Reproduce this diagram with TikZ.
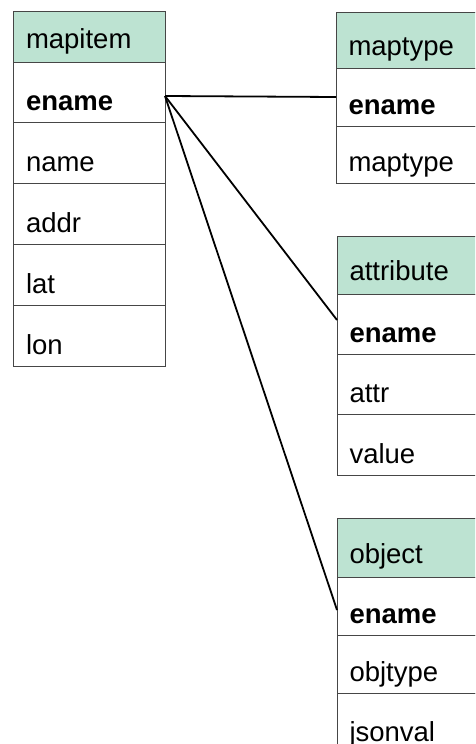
\documentclass[tikz,border=0pt]{standalone}
\usepackage{fontspec}
\setmainfont{Liberation Sans}
\definecolor{hdr}{RGB}{189,227,210}
\definecolor{edge}{RGB}{70,70,70}
\tikzset{
  cell/.style={draw=edge, line width=0.9pt, rectangle, inner sep=0pt, outer sep=0pt,
               anchor=north west, minimum width=152pt},
  head/.style={cell, fill=hdr},
  txt/.style={anchor=base west, inner sep=0pt, outer sep=0pt,
              font=\fontsize{27.5}{33}\selectfont},
  link/.style={draw=black, line width=1.8pt}
}
\begin{document}
\begin{tikzpicture}[x=1pt, y=-1pt]
\useasboundingbox (0,0) rectangle (475,744);
\clip (0,0) rectangle (475,744);

% mapitem table
\node[head, minimum height=51pt] (mi-h) at (13,11) {};
\node[cell, minimum height=60pt] (mi-ename) at (13,62) {};
\node[cell, minimum height=61pt] (mi-name) at (13,122) {};
\node[cell, minimum height=61pt] (mi-addr) at (13,183) {};
\node[cell, minimum height=61pt] (mi-lat) at (13,244) {};
\node[cell, minimum height=61pt] (mi-lon) at (13,305) {};
\node[txt] (mi-h-t) at ([shift={(13pt,14pt)}]mi-h.south west) {mapitem};
\node[txt] (mi-ename-t) at ([shift={(13pt,12pt)}]mi-ename.south west) {\bfseries ename};
\node[txt] (mi-name-t) at ([shift={(13pt,12pt)}]mi-name.south west) {name};
\node[txt] (mi-addr-t) at ([shift={(13pt,12pt)}]mi-addr.south west) {addr};
\node[txt] (mi-lat-t) at ([shift={(13pt,12pt)}]mi-lat.south west) {lat};
\node[txt] (mi-lon-t) at ([shift={(13pt,12pt)}]mi-lon.south west) {lon};

% maptype table
\node[head, minimum height=56pt] (mt-h) at (336,12) {};
\node[cell, minimum height=58pt] (mt-ename) at (336,68) {};
\node[cell, minimum height=57pt] (mt-maptype) at (336,126) {};
\node[txt] (mt-h-t) at ([shift={(12.5pt,13pt)}]mt-h.south west) {maptype};
\node[txt] (mt-ename-t) at ([shift={(12.5pt,12pt)}]mt-ename.south west) {\bfseries ename};
\node[txt] (mt-maptype-t) at ([shift={(12.5pt,12pt)}]mt-maptype.south west) {maptype};

% attribute table
\node[head, minimum height=58pt] (at-h) at (337,236) {};
\node[cell, minimum height=60pt] (at-ename) at (337,294) {};
\node[cell, minimum height=60pt] (at-attr) at (337,354) {};
\node[cell, minimum height=61pt] (at-value) at (337,414) {};
\node[txt] (at-h-t) at ([shift={(12.5pt,14pt)}]at-h.south west) {attribute};
\node[txt] (at-ename-t) at ([shift={(12.5pt,12pt)}]at-ename.south west) {\bfseries ename};
\node[txt] (at-attr-t) at ([shift={(12.5pt,12pt)}]at-attr.south west) {attr};
\node[txt] (at-value-t) at ([shift={(12.5pt,12pt)}]at-value.south west) {value};

% object table
\node[head, minimum height=59pt] (ob-h) at (337,518) {};
\node[cell, minimum height=58pt] (ob-ename) at (337,577) {};
\node[cell, minimum height=58pt] (ob-objtype) at (337,635) {};
\node[cell, minimum height=60pt] (ob-jsonval) at (337,693) {};
\node[txt] (ob-h-t) at ([shift={(12.5pt,14pt)}]ob-h.south west) {object};
\node[txt] (ob-ename-t) at ([shift={(12.5pt,12pt)}]ob-ename.south west) {\bfseries ename};
\node[txt] (ob-objtype-t) at ([shift={(12.5pt,12pt)}]ob-objtype.south west) {objtype};
\node[txt] (ob-jsonval-t) at ([shift={(12.5pt,12pt)}]ob-jsonval.south west) {jsonval};

% relations on ename
\coordinate (src) at ([yshift=-4pt]mi-ename.east);
\draw[link] (src) -- (mt-ename.west);
\draw[link] (src) -- ([yshift=4pt]at-ename.west);
\draw[link] (src) -- ([yshift=-4pt]ob-ename.west);
\end{tikzpicture}
\end{document}
